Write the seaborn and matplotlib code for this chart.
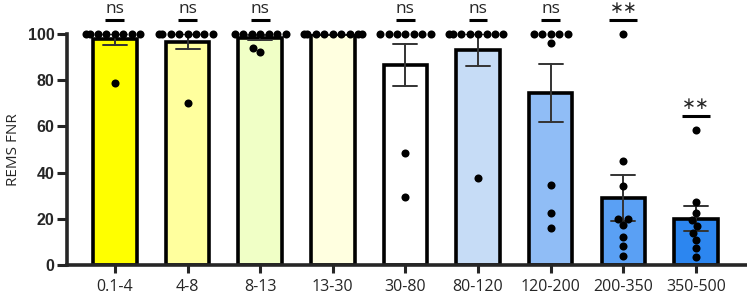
import numpy as np
import pandas as pd
import matplotlib
matplotlib.use("Agg")
import matplotlib.pyplot as plt
import seaborn as sns

# Frequency bands (Hz) and per-animal REMS FNR values
bands = ['0.1-4', '4-8', '8-13', '13-30', '30-80', '80-120', '120-200', '200-350', '350-500']
values = {
    '0.1-4':   [100, 100, 100, 100, 100, 100, 100, 100, 78.7],
    '4-8':     [100, 100, 100, 100, 100, 100, 100, 100, 70.3],
    '8-13':    [100, 100, 100, 100, 100, 100, 100, 93.8, 92.3],
    '13-30':   [100, 100, 100, 100, 100, 100, 100, 100, 100],
    '30-80':   [100, 100, 100, 100, 100, 100, 100, 48.3, 29.6],
    '80-120':  [100, 100, 100, 100, 100, 100, 100, 100, 37.5],
    '120-200': [100, 100, 100, 100, 100, 96.0, 34.6, 22.4, 15.9],
    '200-350': [100, 45.2, 34.3, 20.0, 20.0, 17.2, 12.3, 8.2, 3.9],
    '350-500': [58.4, 27.1, 22.4, 19.5, 16.9, 14.0, 10.8, 7.2, 3.6],
}
signif = ['ns', 'ns', 'ns', '', 'ns', 'ns', 'ns', '∗∗', '∗∗']
bar_colors = ['#FFFF00', '#FFFF9E', '#F0FFC6', '#FFFFE0', '#FFFFFF',
              '#C6DCF6', '#90BDF6', '#5AA0F4', '#2C86F0']

df = pd.DataFrame(
    [(b, v) for b in bands for v in values[b]], columns=['band', 'fnr']
)

sns.set_style('ticks')
plt.rcParams['font.family'] = ['Open Sans', 'DejaVu Sans']

fig = plt.figure(figsize=(7.47, 2.95), dpi=100)
ax = fig.add_axes([0.0897, 0.1017, 0.9090, 0.7830])

sns.barplot(data=df, x='band', y='fnr', hue='band', palette=bar_colors,
            order=bands, hue_order=bands, legend=False, saturation=1,
            errorbar='se', capsize=0.33, width=0.6,
            err_kws={'linewidth': 1.4, 'color': '#333333'},
            edgecolor='black', linewidth=2.6, ax=ax)
sns.swarmplot(data=df, x='band', y='fnr', order=bands, color='black',
              size=5.8, zorder=5, ax=ax, warn_thresh=1.0)
for coll in ax.collections:
    coll.set_clip_on(False)

# significance marks above each band
for i, b in enumerate(bands):
    if not signif[i]:
        continue
    y = max(values[b]) + 6
    half = 0.13 if signif[i] == 'ns' else 0.19
    ax.plot([i - half, i + half], [y, y], color='black', lw=2.2,
            clip_on=False, solid_capstyle='butt')
    if signif[i] == 'ns':
        ax.text(i, y + 1.2, 'ns', ha='center', va='bottom', fontsize=12.5,
                clip_on=False)
    else:
        ax.text(i, y + 1.2, signif[i], ha='center', va='bottom', fontsize=12,
                family=['DejaVu Sans'], clip_on=False)

ax.set_xlim(-0.66, 8.69)
ax.set_ylim(0, 100)
ax.set_yticks([0, 20, 40, 60, 80, 100])
ax.set_xlabel('')
ax.set_ylabel('REMS FNR', fontsize=11, labelpad=5)
ax.tick_params(axis='y', length=7, width=2.2, labelsize=11.5, pad=2)
ax.tick_params(axis='x', length=6, width=2.2, labelsize=11.5, pad=4)
for lab in ax.get_yticklabels():
    lab.set_fontweight('bold')
    lab.set_family(['Liberation Sans', 'DejaVu Sans'])
sns.despine(ax=ax)
for side in ['left', 'bottom']:
    ax.spines[side].set_linewidth(2.6)

fig.savefig('out.png', dpi=100)
